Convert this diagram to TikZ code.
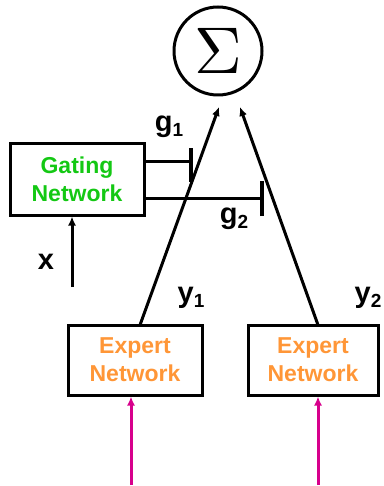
\documentclass[tikz,border=0pt]{standalone}
\usepackage{fontspec}
\usepackage{graphicx}
\setmainfont{Liberation Sans}
\usetikzlibrary{arrows.meta}
\definecolor{gategreen}{RGB}{20,200,20}
\definecolor{expertorange}{RGB}{255,150,55}
\definecolor{inmagenta}{RGB}{215,0,140}
\newcommand{\subsc}[1]{\raisebox{-5pt}{\fontsize{19}{19}\selectfont\bfseries #1}}
\tikzset{
  boxnode/.style={draw=black, line width=3pt, inner sep=0pt, align=center,
    font=\fontsize{23}{28}\selectfont\bfseries},
  conn/.style={line width=3pt, -{Latex[length=9pt,width=8pt]}},
  inarrow/.style={line width=3pt, inmagenta, -{Latex[length=9pt,width=8pt]}},
  gline/.style={line width=3pt},
  gbar/.style={line width=4.5pt},
  lbl/.style={font=\fontsize{29}{29}\selectfont\bfseries, inner sep=0pt}
}
\begin{document}
\begin{tikzpicture}[x=1pt,y=-1pt]
\useasboundingbox (0,0) rectangle (383,486);
% sum node
\node[draw, circle, line width=3pt, minimum size=88pt, inner sep=0pt] (sum) at (218,51)
  {\scalebox{6.6}{$\Sigma$}};
% gating network
\node[boxnode, minimum width=134pt, minimum height=71pt, text=gategreen] (gate) at (77,179.5)
  {Gating\\Network};
% experts
\node[boxnode, minimum width=134pt, minimum height=70pt, text=expertorange] (exp1) at (135,360)
  {Expert\\Network};
\node[boxnode, minimum width=130pt, minimum height=70pt, text=expertorange] (exp2) at (313,360)
  {Expert\\Network};
% coordinates
\coordinate (t1) at (219,107);
\coordinate (t2) at (240,107);
\coordinate (e1) at (140,325);
\coordinate (e2) at (318,325);
\coordinate (bar1) at (191,162);
\coordinate (bar2) at (262,198);
\coordinate (xin) at (72,287);
\coordinate (m1) at (131,485);
\coordinate (m2) at (318,485);
% expert outputs
\draw[conn] (e1) -- (t1);
\draw[conn] (e2) -- (t2);
% gating outputs
\draw[gline] (gate.east |- bar1) -- (bar1);
\draw[gbar] ([yshift=-20pt]bar1) -- ([yshift=14pt]bar1);
\draw[gline] (gate.east |- bar2) -- (bar2);
\draw[gbar] ([yshift=-18pt]bar2) -- ([yshift=17pt]bar2);
% inputs
\draw[conn] (xin) -- (gate.south -| xin);
\draw[inarrow] (m1) -- (exp1.south -| m1);
\draw[inarrow] (m2) -- (exp2.south -| m2);
% labels
\node[lbl] (g1) at (169,127) {g\subsc{1}};
\node[lbl] (g2) at (234,219) {g\subsc{2}};
\node[lbl] (xl) at (46,262) {x};
\node[lbl] (y1) at (191,298) {y\subsc{1}};
\node[lbl] (y2) at (368,298) {y\subsc{2}};
\end{tikzpicture}
\end{document}
